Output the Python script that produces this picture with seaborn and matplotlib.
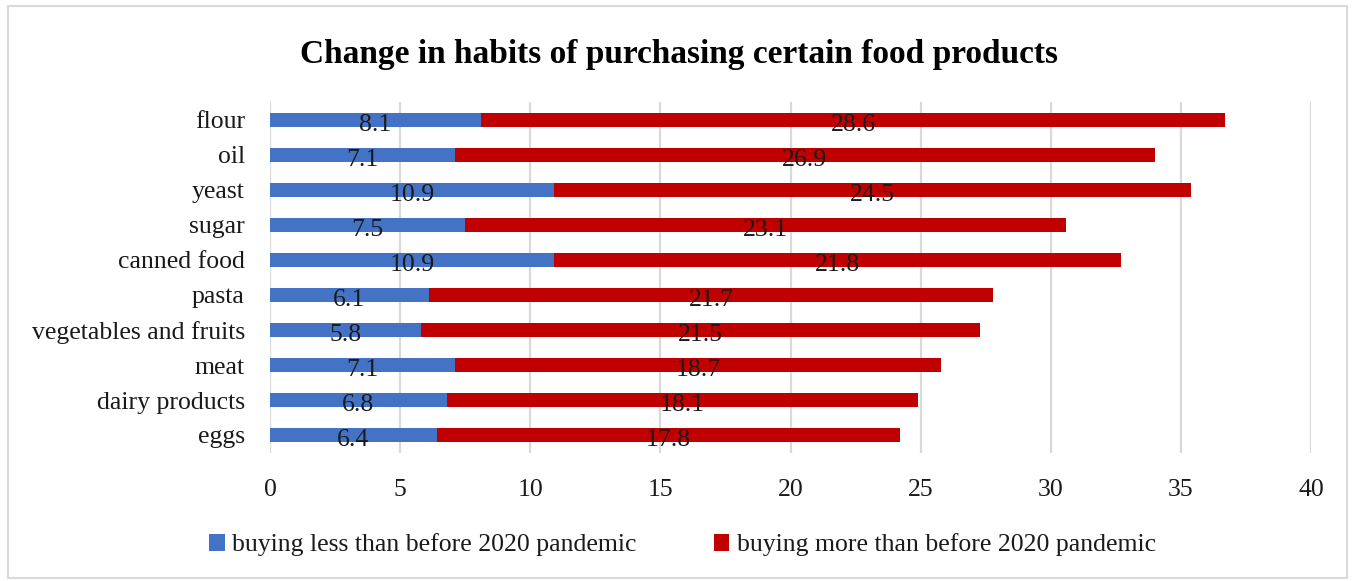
import matplotlib
matplotlib.use("Agg")
import matplotlib.pyplot as plt
import seaborn as sns
import pandas as pd
from matplotlib.patches import Rectangle, Patch

categories = ["flour", "oil", "yeast", "sugar", "canned food", "pasta",
              "vegetables and fruits", "meat", "dairy products", "eggs"]
buying_less = [8.1, 7.1, 10.9, 7.5, 10.9, 6.1, 5.8, 7.1, 6.8, 6.4]
buying_more = [28.6, 26.9, 24.5, 23.1, 21.8, 21.7, 21.5, 18.7, 18.1, 17.8]
x_ticks = [0, 5, 10, 15, 20, 25, 30, 35, 40]
series_names = ["buying less than before 2020 pandemic",
                "buying more than before 2020 pandemic"]

BLUE = "#4472C4"
RED = "#C00000"
TXT = "#1a1a1a"
FS = 18.5

sns.set_theme(style="white")
plt.rcParams["font.family"] = ["Liberation Serif", "DejaVu Serif"]

df = pd.DataFrame({"category": categories, "less": buying_less, "more": buying_more})
df["total"] = df["less"] + df["more"]

fig = plt.figure(figsize=(13.57, 5.81), dpi=100)
ax = fig.add_axes([270 / 1357, 1 - 452.5 / 581, (1311 - 270) / 1357, 350 / 581])

# stacked bars: full total in red, then the "less" part in blue over it
sns.barplot(data=df, y="category", x="total", color=RED, width=0.4,
            saturation=1, ax=ax, orient="h", edgecolor="none")
sns.barplot(data=df, y="category", x="less", color=BLUE, width=0.4,
            saturation=1, ax=ax, orient="h", edgecolor="none")

for i, (lv, mv) in enumerate(zip(buying_less, buying_more)):
    ax.text(lv / 2, i + 0.13, f"{lv:.1f}", ha="center", va="center",
            fontsize=FS, color=TXT)
    ax.text(lv + mv / 2, i + 0.13, f"{mv:.1f}", ha="center", va="center",
            fontsize=FS, color=TXT)

ax.set_xlim(0, 40)
ax.set_ylim(9.5, -0.5)
ax.set_xticks(x_ticks)
ax.set_xticklabels([str(t) for t in x_ticks])
ax.set_xlabel("")
ax.set_ylabel("")
ax.xaxis.grid(True, color="#D9D9D9", linewidth=1.6)
ax.set_axisbelow(True)
for s in ax.spines.values():
    s.set_visible(False)
ax.tick_params(axis="both", length=0, labelsize=FS, colors=TXT)
ax.tick_params(axis="x", pad=19)
ax.tick_params(axis="y", pad=18)

fig.suptitle("Change in habits of purchasing certain food products",
             x=0.5, y=1 - 54 / 581, va="center", fontsize=24, fontweight="bold",
             color="#000000")

handles = [Patch(facecolor=BLUE, edgecolor="none"), Patch(facecolor=RED, edgecolor="none")]
fig.legend(handles, series_names, loc="center", bbox_to_anchor=(0.503, 1 - 545 / 581),
           ncol=2, frameon=False, fontsize=FS, handlelength=0.6, handleheight=0.6,
           handletextpad=0.3, columnspacing=3.0, labelcolor=TXT)

# light frame around the whole chart area
fig.patches.append(Rectangle((8 / 1357, 3 / 581), 1339 / 1357, 572 / 581,
                             transform=fig.transFigure, fill=False,
                             edgecolor="#D9D9D9", linewidth=1.5))

fig.savefig("out.png", dpi=100)
